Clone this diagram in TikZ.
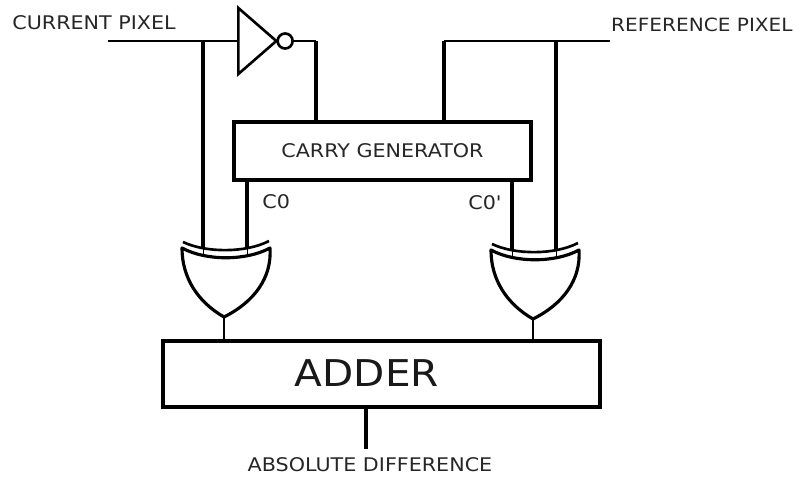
\documentclass[tikz,border=0pt]{standalone}
\usepackage{fontspec}
\setmainfont{DejaVu Sans}
\newfontfamily\labelfont[FakeStretch=1.1]{DejaVu Sans}
\usetikzlibrary{shapes.geometric,positioning,calc}
\tikzset{
  unitbox/.style={
    rectangle, draw=black, line width=1.9pt, fill=white,
    inner sep=0pt, align=center, text=black!85},
  invgate/.style={
    isosceles triangle, isosceles triangle apex angle=82, draw=black, line width=1.5pt,
    minimum height=0.76cm, minimum width=1.32cm, inner sep=0pt},
  bubble/.style={
    circle, draw=black, line width=1.5pt, minimum size=0.3cm, inner sep=0pt},
  siglabel/.style={font=\labelfont\fontsize{10.7pt}{12pt}\selectfont, text=black!85, inner sep=0pt},
  thinwire/.style={draw=black, line width=1.4pt},
  thickwire/.style={draw=black, line width=2.6pt},
  xorgate/.pic={
    \draw[line width=1.5pt] (-43,-8) .. controls (-20,3) and (20,3) .. (43,-9);
    \draw[line width=1.8pt, line join=round] (-44,-2) .. controls (-20,11) and (20,11) .. (44,-2)
      .. controls (46,28) and (28,52) .. (-2,67)
      .. controls (-28,52) and (-44,28) .. cycle;
    \draw[line width=0.5pt] (-23,-2) -- (-23,7);
    \draw[line width=0.5pt] (21,-2) -- (21,7);
    \coordinate (-ina) at (-23,-1);
    \coordinate (-inb) at (21,-1);
    \coordinate (-out) at (-2,67);
  },
}
\begin{document}
\begin{tikzpicture}[x=0.02cm,y=-0.02cm]
  \useasboundingbox (0,0) rectangle (795,477);
  % boxes
  \node[unitbox, minimum width=5.94cm, minimum height=1.16cm] (carry) at (382.5,151) {\labelfont\fontsize{10.7pt}{12pt}\selectfont CARRY GENERATOR};
  \node[unitbox, minimum width=8.74cm, minimum height=1.32cm] (adder) at (381.5,374) {};
  \node[inner sep=0pt, text=black!90] (addlab) at (367,373) {\labelfont\fontsize{21pt}{23pt}\selectfont ADDER};
  % gates
  \node[invgate, anchor=lower side] (inv) at (237,41) {};
  \node[bubble, right=-0.04cm of inv.apex] (bub) {};
  \pic (xl) at (226,250) {xorgate};
  \pic (xr) at (535,252) {xorgate};
  % wire ends and corners
  \coordinate (curin) at (108,41);
  \coordinate (refin) at (610,41);
  \coordinate (curtap) at (203,41);
  \coordinate (reftap) at (556,41);
  \coordinate (invcor) at (316,41);
  \coordinate (refcor) at (444,41);
  \coordinate (diffout) at (366,449);
  % labels
  \node[siglabel, anchor=west] (curlab) at (12,23) {CURRENT PIXEL};
  \node[siglabel, anchor=east, font=\labelfont\fontsize{10.4pt}{12pt}\selectfont] (reflab) at (793,25) {REFERENCE PIXEL};
  \node[siglabel, anchor=west] (c0lab) at (262,202) {C0};
  \node[siglabel, anchor=west] (c1lab) at (468,203) {C0'};
  \node[siglabel] (difflab) at (370,465) {ABSOLUTE DIFFERENCE};
  % wires
  \draw[thinwire] (curin) -- (inv.lower side);
  \draw[thinwire] (bub.east) -- (invcor);
  \draw[thinwire] (refcor) -- (refin);
  \draw[thickwire] (curtap) -- (xl-ina);
  \draw[thickwire] (invcor) -- (invcor |- carry.north);
  \draw[thickwire] (refcor) -- (refcor |- carry.north);
  \draw[thickwire] (reftap) -- (xr-inb);
  \draw[thickwire] (xl-inb |- carry.south) -- (xl-inb);
  \draw[thickwire] (xr-ina |- carry.south) -- (xr-ina);
  \draw[line width=0.7pt] (xl-out) -- (xl-out |- adder.north);
  \draw[line width=0.7pt] (xr-out) -- (xr-out |- adder.north);
  \draw[thickwire] (diffout |- adder.south) -- (diffout);
\end{tikzpicture}
\end{document}
